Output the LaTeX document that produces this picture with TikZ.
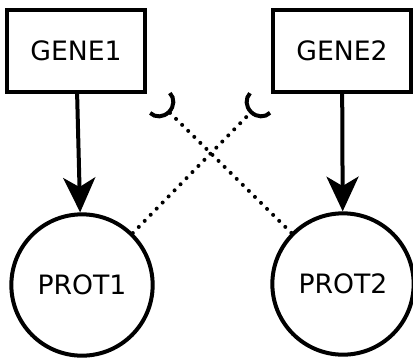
\documentclass[tikz,border=0pt]{standalone}
\usepackage{fontspec}
\setmainfont{DejaVu Sans}
\usetikzlibrary{arrows.meta}

\begin{document}
\begin{tikzpicture}[x=0.75pt,y=-0.75pt,
    font=\fontsize{20}{24}\selectfont,
    gene/.style={draw,line width=3pt,minimum width=103.5pt,minimum height=61.5pt,inner sep=0pt},
    prot/.style={draw,circle,line width=3pt,minimum size=106pt,inner sep=0pt},
    expr/.style={line width=3pt,-{Stealth[length=26pt,width=24pt,inset=7pt]}},
    inhib/.style={line width=3pt,dash pattern=on 0pt off 6.4pt,line cap=round,
      -{Arc Barb[reversed,width=24pt,length=11pt]}}]
  \useasboundingbox (0,0) rectangle (413,361);
  \node[gene] (gene1) at (76,50.5) {GENE1};
  \node[gene] (gene2) at (342,50.5) {GENE2};
  \node[prot] (prot1) at (82,285) {PROT1};
  \node[prot] (prot2) at (343,284) {PROT2};

  \coordinate (inh1) at (160,103);
  \coordinate (inh2) at (260,103);

  \draw[expr] (gene1) -- (prot1);
  \draw[expr] (gene2) -- (prot2);
  \draw[inhib] (prot2) -- (inh1);
  \draw[inhib] (prot1) -- (inh2);
\end{tikzpicture}
\end{document}
